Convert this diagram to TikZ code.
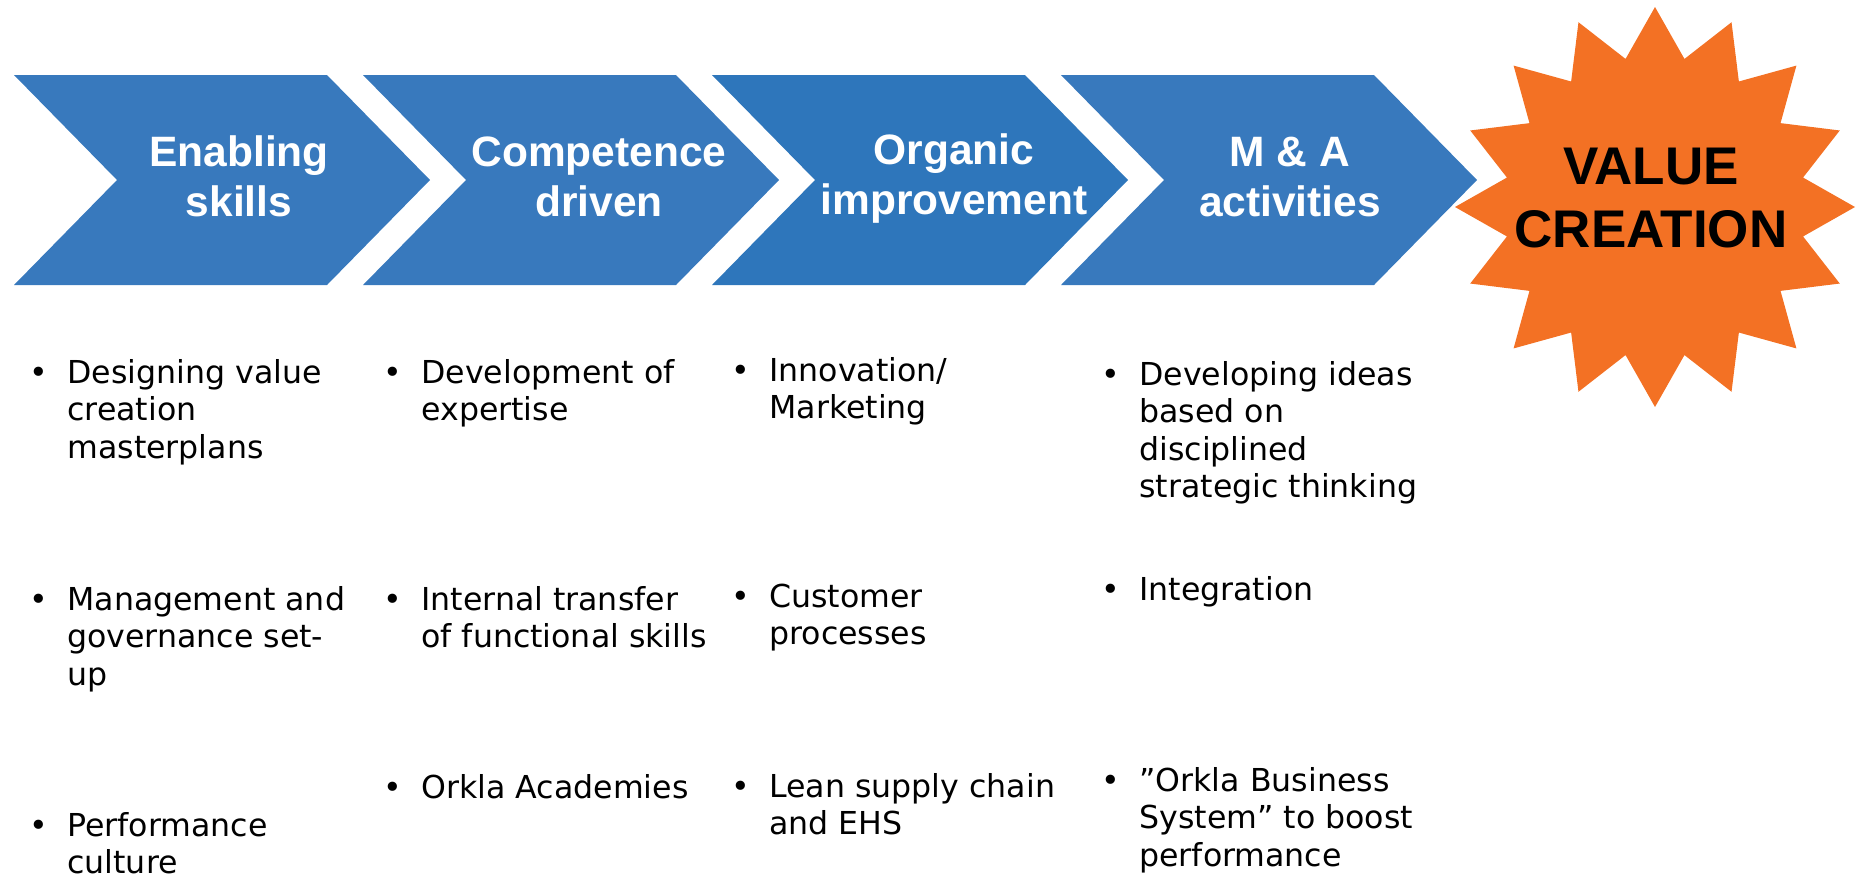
\documentclass[tikz,border=0pt]{standalone}
\usepackage{fontspec}
\setmainfont{Liberation Sans}
\newfontfamily\itemfont{DejaVu Sans}
\usetikzlibrary{shapes.geometric}
\definecolor{chevblue}{RGB}{56,121,189}
\definecolor{chevdeep}{RGB}{46,118,187}
\definecolor{burstorange}{RGB}{243,113,36}

% bullet followed by a block of lines
\newcommand{\bul}[1]{\makebox[29pt][c]{\textbullet}%
  \begin{tabular}[t]{@{}l@{}}#1\end{tabular}}

\begin{document}
\begin{tikzpicture}[
  x=0.5pt, y=-0.5pt,
  title/.style={text=white, font=\fontsize{21.25pt}{25pt}\selectfont\bfseries,
    align=center, anchor=base, inner sep=0pt},
  item/.style={anchor=base west, inner sep=0pt,
    font=\itemfont\fontsize{15.8pt}{18.75pt}\selectfont},
  burst/.style={star, star points=16, star point ratio=1.325,
    minimum size=200pt, inner sep=0pt, fill=burstorange},
  valuetxt/.style={font=\fontsize{26.5pt}{31.5pt}\selectfont\bfseries,
    align=center, inner sep=0pt}
]
\useasboundingbox (0,0) rectangle (1860,874);

% the four chevrons
\foreach \l/\c in {14/chevblue, 363/chevblue, 712/chevdeep, 1061/chevblue}
  \fill[\c] (\l,75) -- ++(313,0) -- ++(103,105) -- ++(-103,105)
    -- ++(-313,0) -- ++(103,-105) -- cycle;

% titles sit on the baseline of their second line
\node[title] (enabling) at (239,216) {Enabling\\skills};
\node[title] (competence) at (599,216) {Competence\\driven};
\node[title] (organic) at (954,214) {Organic\\improvement};
\node[title] (manda) at (1290,216) {M \& A\\activities};

\node[burst] (value) at (1655,207) {};
\node[valuetxt] (valuelbl) at (1651,198) {VALUE\\CREATION};

% bullet lists under each step
\node[item] (designing) at (9,383) {\bul{Designing value\\creation\\masterplans}};
\node[item] (governance) at (9,610) {\bul{Management and\\governance set-\\up}};
\node[item] (perfculture) at (9,836) {\bul{Performance\\culture}};

\node[item] (expertise) at (363,383) {\bul{Development of\\expertise}};
\node[item] (transfer) at (363,610) {\bul{Internal transfer\\of functional skills}};
\node[item] (academies) at (363,798) {\bul{Orkla Academies}};

\node[item] (innovation) at (711,381) {\bul{Innovation/\\Marketing}};
\node[item] (customer) at (711,607) {\bul{Customer\\processes}};
\node[item] (lean) at (711,797) {\bul{Lean supply chain\\and EHS}};

\node[item] (ideas) at (1081,385) {\bul{Developing ideas\\based on\\disciplined\\strategic thinking}};
\node[item] (integration) at (1081,600) {\bul{Integration}};
\node[item] (obs) at (1081,791) {\bul{”Orkla Business\\System” to boost\\performance}};

\end{tikzpicture}
\end{document}
